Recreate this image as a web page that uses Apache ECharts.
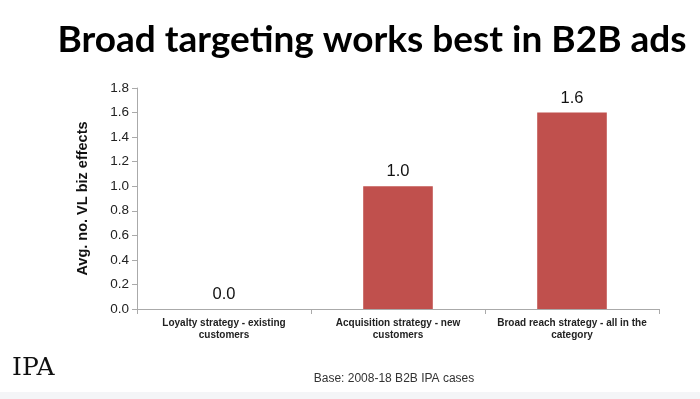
<!DOCTYPE html>
<html>
<head>
<meta charset="utf-8">
<script src="https://cdn.jsdelivr.net/npm/echarts@6/dist/echarts.min.js"></script>
<style>
  html, body { margin: 0; padding: 0; background: #fff; }
  #chart { width: 700px; height: 399px; }
</style>
</head>
<body>
<div id="chart"></div>
<script>
var categories = [
    'Loyalty strategy - existing\ncustomers',
    'Acquisition strategy - new\ncustomers',
    'Broad reach strategy - all in the\ncategory'
];
var effects = [0.0, 1.0, 1.6];

var myChart = echarts.init(document.getElementById('chart'));
myChart.setOption({
    backgroundColor: '#ffffff',
    animation: false,
    title: [{
        text: 'Broad targeting works best in B2B ads',
        left: 367,
        top: 17,
        textAlign: 'center',
        textStyle: {
            fontFamily: 'Lato',
            fontWeight: 'bold',
            fontSize: 37,
            color: '#000'
        }
    }, {
        text: 'Base: 2008-18 B2B IPA cases',
        left: 389,
        top: 368,
        textAlign: 'center',
        textStyle: {
            fontFamily: 'Liberation Sans',
            fontWeight: 'normal',
            fontSize: 12,
            color: '#333'
        }
    }],
    graphic: [{
        type: 'rect',
        left: 0,
        top: 392,
        shape: { width: 700, height: 7 },
        style: { fill: '#f4f5f7' }
    }, {
        type: 'text',
        left: 12,
        top: 356,
        style: {
            text: 'IPA',
            font: '25px "DejaVu Serif"',
            fill: '#111'
        }
    }],
    grid: {
        left: 137,
        right: 41,
        top: 88,
        bottom: 90
    },
    xAxis: {
        type: 'category',
        data: categories,
        axisLine: { show: true, lineStyle: { color: '#aaa' } },
        axisTick: { show: true, alignWithLabel: false, length: 5, lineStyle: { color: '#aaa' } },
        axisLabel: {
            interval: 0,
            margin: 8,
            fontFamily: 'Liberation Sans',
            fontWeight: 'bold',
            fontSize: 10,
            lineHeight: 12,
            color: '#222'
        }
    },
    yAxis: {
        type: 'value',
        min: 0,
        max: 1.8,
        interval: 0.2,
        name: 'Avg. no. VL biz effects',
        nameLocation: 'middle',
        nameGap: 47,
        nameTextStyle: {
            fontFamily: 'Liberation Sans',
            fontWeight: 'bold',
            fontSize: 14.5,
            color: '#111'
        },
        axisLine: { show: true, lineStyle: { color: '#aaa' } },
        axisTick: { show: true, length: 5, lineStyle: { color: '#aaa' } },
        splitLine: { show: false },
        axisLabel: {
            margin: 8,
            fontFamily: 'Liberation Sans',
            fontSize: 13.5,
            color: '#222',
            formatter: function (v) { return v.toFixed(1); }
        }
    },
    series: [{
        name: 'Avg. no. VL biz effects',
        type: 'bar',
        data: effects,
        barWidth: '40%',
        itemStyle: { color: '#c0504d' },
        label: {
            show: true,
            position: 'top',
            distance: 6,
            fontFamily: 'Liberation Sans',
            fontSize: 16.5,
            color: '#111',
            formatter: function (p) { return p.value.toFixed(1); }
        }
    }]
});
</script>
</body>
</html>
